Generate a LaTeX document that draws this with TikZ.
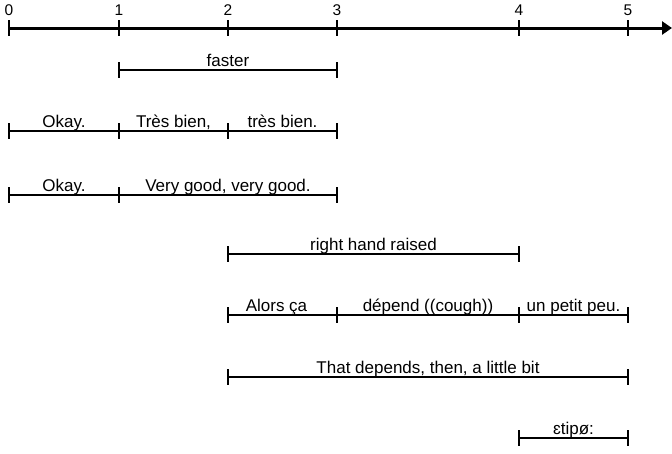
\documentclass[tikz,border=0pt]{standalone}
\usepackage{fontspec}
\setmainfont{Liberation Sans}
\usetikzlibrary{arrows.meta}
\begin{document}
\begin{tikzpicture}[x=1pt,y=-1pt,
  axisline/.style={line width=3pt,-{Triangle[length=10pt,width=13pt]}},
  tk/.style={line width=2.4pt},
  span/.style={line width=1.3pt},
  lbl/.style={anchor=base,inner sep=0pt,yshift=4pt,font=\fontsize{17}{19}\selectfont},
  num/.style={anchor=base,inner sep=0pt,font=\fontsize{15.5}{17}\selectfont}]
\useasboundingbox (0,0) rectangle (672,453);
% axis
\coordinate (a0) at (9,28);
\coordinate (a1) at (119,28);
\coordinate (a2) at (228,28);
\coordinate (a3) at (337,28);
\coordinate (a4) at (519,28);
\coordinate (a5) at (628,28);
\coordinate (aend) at (672,28);
\draw[axisline] (a0) -- (aend);
\foreach \i/\t in {0/0,1/1,2/2,3/3,4/4,5/5}{
  \node[num] (n\i) at ([yshift=13pt]a\i) {\t};
}
% row 1
\coordinate (r1a) at (119,70); \coordinate (r1b) at (337,70);
\draw[span] (r1a) -- node[lbl] {faster} (r1b);
% row 2
\coordinate (r2a) at (9,131); \coordinate (r2b) at (119,131);
\coordinate (r2c) at (228,131); \coordinate (r2d) at (337,131);
\draw[span] (r2a) -- node[lbl] {Okay.} (r2b);
\draw[span] (r2b) -- node[lbl] {Très bien,} (r2c);
\draw[span] (r2c) -- node[lbl] {très bien.} (r2d);
% row 3
\coordinate (r3a) at (9,195); \coordinate (r3b) at (119,195); \coordinate (r3c) at (337,195);
\draw[span] (r3a) -- node[lbl] {Okay.} (r3b);
\draw[span] (r3b) -- node[lbl] {Very good, very good.} (r3c);
% row 4
\coordinate (r4a) at (228,254); \coordinate (r4b) at (519,254);
\draw[span] (r4a) -- node[lbl] {right hand raised} (r4b);
% row 5
\coordinate (r5a) at (228,315); \coordinate (r5b) at (337,315);
\coordinate (r5c) at (519,315); \coordinate (r5d) at (628,315);
\draw[span] (r5a) -- node[lbl, xshift=-6pt] {Alors ça} (r5b);
\draw[span] (r5b) -- node[lbl] {dépend ((cough))} (r5c);
\draw[span] (r5c) -- node[lbl] {un petit peu.} (r5d);
% row 6
\coordinate (r6a) at (228,377); \coordinate (r6b) at (628,377);
\draw[span] (r6a) -- node[lbl] {That depends, then, a little bit} (r6b);
% row 7
\coordinate (r7a) at (519,438); \coordinate (r7b) at (628,438);
\draw[span] (r7a) -- node[lbl] {ɛtipø:} (r7b);
% ticks
\foreach \c in {a0,a1,a2,a3,a4,a5,r1a,r1b,r2a,r2b,r2c,r2d,r3a,r3b,r3c,r4a,r4b,r5a,r5b,r5c,r5d,r6a,r6b,r7a,r7b}{
  \draw[tk] ([yshift=8pt]\c) -- ([yshift=-8pt]\c);
}
\end{tikzpicture}
\end{document}
